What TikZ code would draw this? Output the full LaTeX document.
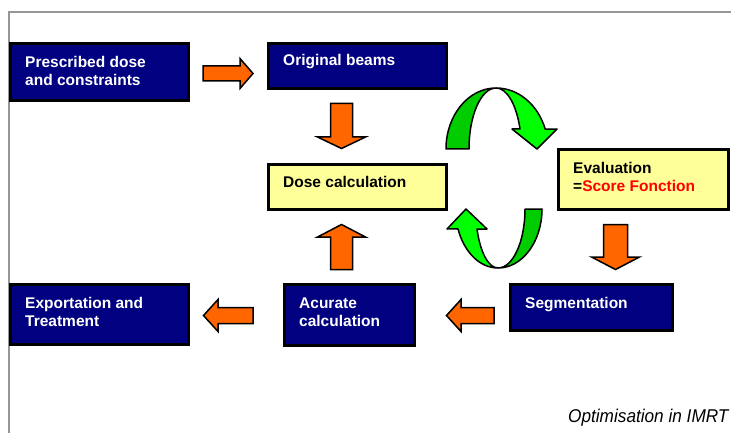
\documentclass[tikz,border=0pt]{standalone}
\usepackage{fontspec}
\setmainfont{Liberation Sans}
\definecolor{navy}{RGB}{0,0,128}
\definecolor{paleyellow}{RGB}{255,255,153}
\definecolor{orng}{RGB}{255,102,0}
\definecolor{dkgreen}{RGB}{0,204,0}
\definecolor{ltgreen}{RGB}{0,255,0}
\definecolor{framegray}{RGB}{150,150,150}
\definecolor{scorered}{RGB}{255,0,0}
\begin{document}
\begin{tikzpicture}[x=1pt,y=1pt,
  box/.style={draw=black, line width=3pt, anchor=north west, inner sep=0pt, outer sep=0pt},
  navybox/.style={box, fill=navy},
  yelbox/.style={box, fill=paleyellow},
  wtxt/.style={text=white, font=\fontsize{15.5}{18}\selectfont\bfseries, align=left, anchor=base west, inner sep=0pt},
  ktxt/.style={wtxt, text=black},
  barrow/.style={fill=orng, draw=black, line width=1.5pt, line join=miter},
  garrow/.style={draw=black, line width=1.5pt, line join=round}
]
\useasboundingbox (0,0) rectangle (731,-433);
\fill[white] (0,0) rectangle (731,-433);
\draw[framegray, line width=2pt] (731,-12) -- (9,-12) -- (9,-433);

% boxes
\node[navybox, minimum width=178pt, minimum height=57pt] (presc) at (10.5,-43.5) {};
\node[navybox, minimum width=178pt, minimum height=45pt] (orig) at (268.5,-43.5) {};
\node[yelbox, minimum width=178pt, minimum height=45pt] (dose) at (268.5,-164.5) {};
\node[yelbox, minimum width=170pt, minimum height=60pt] (eval) at (558.5,-149.5) {};
\node[navybox, minimum width=178pt, minimum height=60pt] (export) at (10.5,-284.5) {};
\node[navybox, minimum width=130pt, minimum height=61pt] (acur) at (284.5,-284.5) {};
\node[navybox, minimum width=162pt, minimum height=46pt] (seg) at (510.5,-284.5) {};

% texts (two-line nodes: base = baseline of last line)
\node[wtxt] (tpresc) at (25,-86) {Prescribed dose\\and constraints};
\node[wtxt] (torig) at (283,-66) {Original beams};
\node[ktxt] (tdose) at (283,-187) {Dose calculation};
\node[ktxt] (teval) at (573,-191) {Evaluation\\=\textcolor{scorered}{Score Fonction}};
\node[wtxt] (texport) at (25,-326) {Exportation and\\Treatment};
\node[wtxt] (tacur) at (299,-326) {Acurate\\calculation};
\node[wtxt] (tseg) at (525,-308) {Segmentation};
\node[anchor=base west, inner sep=0pt, xscale=0.93, font=\fontsize{18.5}{20}\selectfont\itshape] (title) at (568,-422) {Optimisation in IMRT};

% orange block arrows
\filldraw[barrow] (203,-66) -- (240,-66) -- (240,-58.5) -- (253,-73.5) -- (240,-88.5) -- (240,-81) -- (203,-81) -- cycle;
\filldraw[barrow] (253,-307.5) -- (218,-307.5) -- (218,-299.5) -- (203.5,-315.5) -- (218,-331.5) -- (218,-323.5) -- (253,-323.5) -- cycle;
\filldraw[barrow] (494,-307.5) -- (461,-307.5) -- (461,-299.5) -- (446.5,-315.5) -- (461,-331.5) -- (461,-323.5) -- (494,-323.5) -- cycle;
\filldraw[barrow] (330.5,-103.5) -- (352.5,-103.5) -- (352.5,-137) -- (365.5,-137) -- (341.5,-148.5) -- (317.5,-137) -- (330.5,-137) -- cycle;
\filldraw[barrow] (330.5,-269.5) -- (352.5,-269.5) -- (352.5,-237) -- (365.5,-237) -- (341.5,-224.5) -- (317.5,-237) -- (330.5,-237) -- cycle;
\filldraw[barrow] (603.5,-224.5) -- (627.5,-224.5) -- (627.5,-257) -- (639.5,-257) -- (615.5,-269.5) -- (591.5,-257) -- (603.5,-257) -- cycle;

% green curved arrows (top)
\filldraw[garrow, fill=dkgreen] (446,-149) arc[start angle=180,end angle=90,x radius=50,y radius=61] arc[start angle=90,end angle=180,x radius=27,y radius=61] -- cycle;
\filldraw[garrow, fill=ltgreen] (496,-88) arc[start angle=90,end angle=19.1,x radius=52,y radius=61] -- (557,-129) -- (537,-149) -- (512,-129) -- (520,-129) arc[start angle=19.1,end angle=90,x radius=25.4,y radius=61] -- cycle;
% green curved arrows (bottom)
\filldraw[garrow, fill=dkgreen] (498,-268) arc[start angle=270,end angle=360,x radius=44,y radius=59] -- (525,-209) arc[start angle=0,end angle=-90,x radius=27,y radius=59] -- cycle;
\filldraw[garrow, fill=ltgreen] (498,-268) arc[start angle=270,end angle=199.8,x radius=42.5,y radius=59] -- (447,-229) -- (466,-209) -- (487,-229) -- (477,-229) arc[start angle=199.8,end angle=270,x radius=22.3,y radius=59] -- cycle;
\end{tikzpicture}
\end{document}
